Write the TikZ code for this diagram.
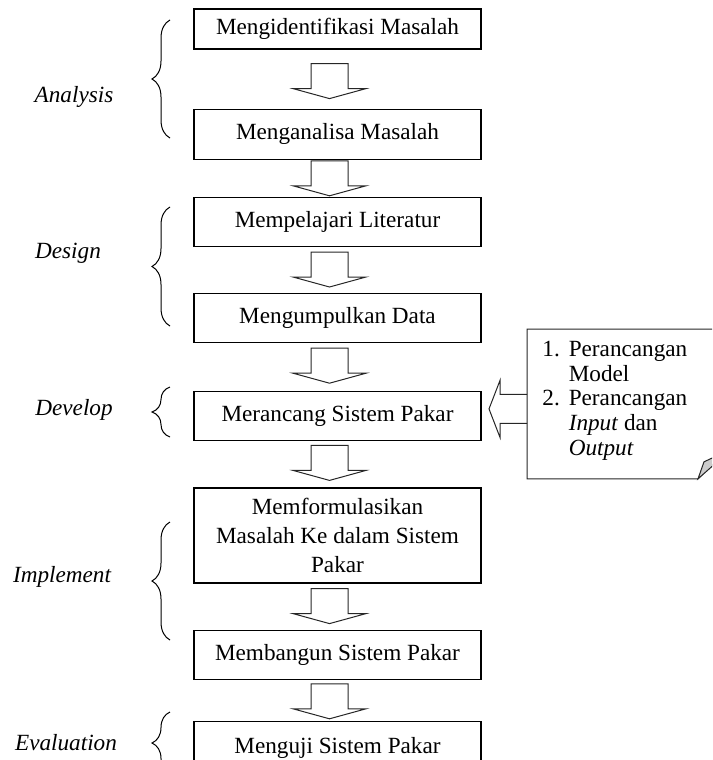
\documentclass[tikz,border=0pt]{standalone}
\usepackage{fontspec}
\setmainfont{Liberation Serif}
\usetikzlibrary{positioning, calc, decorations.pathreplacing}
\tikzset{
  kotak/.style={rectangle, draw=black, line width=0.6pt, fill=white,
    font=\fontsize{11.6}{14.5}\selectfont, align=center,
    minimum width=143.5pt, minimum height=24.5pt, inner sep=2pt},
  tahap/.style={font=\fontsize{11.6}{14}\selectfont\itshape},
  kurung/.style={decorate, decoration={brace, amplitude=9pt}, line width=0.5pt},
  garis/.style={draw=black!85, line width=0.5pt},
  daftar/.style={font=\fontsize{11.6}{12.3}\selectfont, inner sep=0pt,
    anchor=north west},
  panahbawah/.pic={
    \draw[garis] (-18.5,0) -- (-18.5,25) -- (-36.5,25) -- (0,35)
      -- (36.5,25) -- (18.5,25) -- (18.5,0) -- cycle;},
  panahkiri/.pic={
    \draw[garis] (0,-14.5) -- (-27,-14.5) -- (-27,-28.5) -- (-38,0)
      -- (-27,28.5) -- (-27,14.5) -- (0,14.5);}
}

\begin{document}
\begin{tikzpicture}[x=0.5pt, y=-0.5pt]
  \useasboundingbox (0,0) rectangle (712,760);
  \clip (0,0) rectangle (712,760);

  % alur utama
  \node[kotak, minimum height=20pt] (identifikasi) at (337.5,29) {Mengidentifikasi Masalah};
  \node[kotak, minimum height=25pt, below=29.5pt of identifikasi] (analisa) {Menganalisa Masalah};
  \node[kotak, below=18.5pt of analisa] (literatur) {Mempelajari Literatur};
  \node[kotak, below=23pt of literatur] (data) {Mengumpulkan Data};
  \node[kotak, below=24pt of data] (rancang) {Merancang Sistem Pakar};
  \node[kotak, minimum height=47.5pt, below=23pt of rancang] (formulasi) {Memformulasikan\\Masalah Ke dalam Sistem\\Pakar};
  \node[kotak, below=23pt of formulasi] (bangun) {Membangun Sistem Pakar};
  \node[kotak, minimum height=27pt, below=20.5pt of bangun] (uji) {Menguji Sistem Pakar};

  % panah blok
  \pic at ($(identifikasi.south)+(-8,14)$) {panahbawah};
  \pic at ($(analisa.south)+(-8,1)$) {panahbawah};
  \pic at ($(literatur.south)+(-8,5)$) {panahbawah};
  \pic at ($(data.south)+(-8,5)$) {panahbawah};
  \pic at ($(rancang.south)+(-8,4)$) {panahbawah};
  \pic at ($(formulasi.south)+(-8,5)$) {panahbawah};
  \pic at ($(bangun.south)+(-8,4)$) {panahbawah};

  % catatan
  \node[minimum width=110pt, minimum height=74.5pt, inner sep=0pt, anchor=north west] (catatan) at (527,329) {};
  \draw[garis] (catatan.north east) -- (catatan.north west) -- (catatan.south west)
    -- ($(catatan.south west)+(171,0)$) -- ($(catatan.south west)+(211,-40)$);
  \filldraw[garis, fill=gray!40] ($(catatan.south west)+(171,0)$) -- ($(catatan.south west)+(177,-17)$)
    -- ($(catatan.south west)+(205,-30)$) -- cycle;
  \node[daftar] (isi) at ($(catatan.north west)+(15,10)$) {%
    \begin{tabular}{@{}r@{\hspace{4.5pt}}l@{}}
      1. & Perancangan\\
         & Model\\
      2. & Perancangan\\
         & \textit{Input} dan\\
         & \textit{Output}
    \end{tabular}};
  \pic at ($(catatan.west)+(0,5)$) {panahkiri};

  % tahapan
  \draw[kurung] (170,138) -- (170,20);
  \node[tahap] (analysis) at (74,97) {Analysis};
  \draw[kurung] (170,326) -- (170,207);
  \node[tahap] (design) at (68,253) {Design};
  \draw[kurung] (170,437) -- (170,387);
  \node[tahap] (develop) at (74,410) {Develop};
  \draw[kurung] (170,640) -- (170,522);
  \node[tahap] (implement) at (62,577) {Implement};
  \draw[kurung] (170,774) -- (170,712);
  \node[tahap] (evaluation) at (66,743) {Evaluation};
\end{tikzpicture}
\end{document}
